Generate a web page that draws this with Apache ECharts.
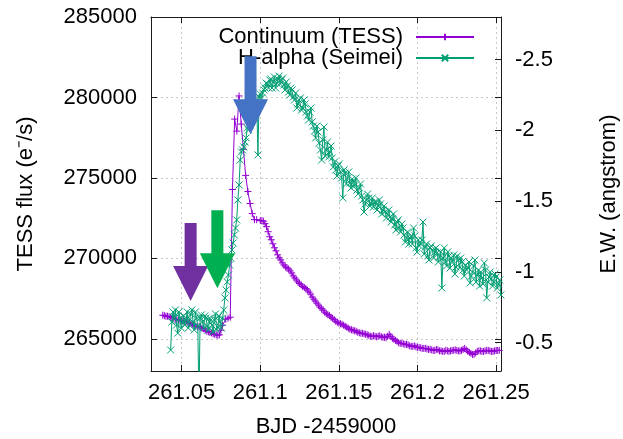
<!DOCTYPE html>
<html><head><meta charset="utf-8">
<script src="https://cdn.jsdelivr.net/npm/echarts@6/dist/echarts.min.js"></script>
<style>html,body{margin:0;padding:0;background:#fff}#c{width:623px;height:439px}</style>
</head><body><div id="c"></div>
<script>
// ---- data ----
// TESS continuum (two interleaved sets of exposures)
const tessTime = [261.0380,261.0400,261.0420,261.0440,261.0460,261.0480,261.0500,261.0520,261.0540,261.0560,
261.0580,261.0600,261.0620,261.0640,261.0660,261.0680,261.0700,261.0720,261.0740,261.0760,
261.0780,261.0795,261.0809,261.0823,261.0837,261.0851,261.0865,261.0879,261.0893,261.0907,
261.0921,261.0935,261.0949,261.0963,261.0977,261.1000,261.1020,261.1040,261.1060,261.1080,
261.1100,261.1120,261.1140,261.1160,261.1180,261.1200,261.1220,261.1240,261.1260,261.1280,
261.1300,261.1320,261.1340,261.1360,261.1380,261.1400,261.1420,261.1440,261.1460,261.1480,
261.1500,261.1520,261.1540,261.1560,261.1580,261.1600,261.1620,261.1640,261.1660,261.1680,
261.1700,261.1720,261.1740,261.1760,261.1780,261.1800,261.1820,261.1840,261.1860,261.1880,
261.1900,261.1920,261.1940,261.1960,261.1980,261.2000,261.2020,261.2040,261.2060,261.2080,
261.2100,261.2120,261.2140,261.2160,261.2180,261.2200,261.2220,261.2240,261.2260,261.2280,
261.2300,261.2320,261.2340,261.2360,261.2380,261.2400,261.2420,261.2440,261.2460,261.2480,
261.2500,261.2520];
const tessFlux = [266469,266406,266375,266313,266219,266156,266125,266094,266031,265938,
265844,265750,265719,265625,265469,265406,265313,265250,265250,265844,
266219,266281,266344,274281,278656,277906,280094,278344,276781,275156,
274156,273406,272781,272406,272406,272344,272313,271969,271344,270906,
270469,270031,269719,269469,269344,269094,268781,268531,268344,268188,
268031,267781,267469,267219,266969,266781,266563,266438,266281,266094,
265969,265906,265781,265656,265563,265500,265406,265344,265313,265250,
265156,265188,265125,265188,265094,265063,265281,265031,264906,264750,
264719,264656,264625,264531,264563,264469,264438,264406,264375,264344,
264281,264344,264250,264219,264281,264219,264281,264313,264250,264281,
264406,264219,264094,264031,264219,264250,264219,264281,264250,264219,
264281,264281];
const tessTime2 = [261.039,261.041,261.043,261.045,261.047,261.049,261.051,261.053,261.055,261.057,
261.059,261.061,261.063,261.065,261.067,261.069,261.071,261.073,261.075,
261.101,261.103,261.105,261.107,261.109,261.111,261.113,261.115,261.117,261.119,
261.121,261.123,261.125,261.127,261.129,261.131,261.133,261.135,261.137,261.139,
261.141,261.143,261.145,261.147,261.149,261.151,261.153,261.155,261.157,261.159,
261.161,261.163,261.165,261.167,261.169,261.171,261.173,261.175,261.177,261.179,
261.181,261.183,261.185,261.187,261.189,261.191,261.193,261.195,261.197,261.199,
261.201,261.203,261.205,261.207,261.209,261.211,261.213,261.215,261.217,261.219,
261.221,261.223,261.225,261.227,261.229,261.231,261.233,261.235,261.237,261.239,
261.241,261.243,261.245,261.247,261.249,261.251];
const tessFlux2 = [266438,266406,266344,266281,266188,266156,266094,266094,265969,265906,
265781,265750,265656,265531,265438,265375,265281,265219,265531,
272344,272156,271656,271156,270656,270219,269906,269594,269406,269219,
268906,268656,268438,268250,268125,267906,267594,267344,267094,266875,
266656,266500,266344,266188,266031,265938,265844,265719,265594,265531,
265469,265375,265344,265281,265219,265156,265156,265156,265125,265094,
265156,265156,264969,264844,264719,264688,264656,264563,264531,264500,
264469,264406,264406,264344,264313,264281,264313,264250,264219,264250,
264250,264281,264281,264250,264344,264313,264156,264031,264125,264250,
264219,264250,264281,264219,264250,264281];

// H-alpha equivalent width (Seimei) (two interleaved sets)
const haTime = [261.0430,261.0445,261.0460,261.0475,261.0490,261.0505,261.0520,261.0535,261.0550,261.0565,
261.0580,261.0595,261.0610,261.0625,261.0640,261.0655,261.0670,261.0685,261.0700,261.0715,
261.0730,261.0745,261.0760,261.0775,261.0790,261.0805,261.0820,261.0835,261.0850,261.0865,
261.0880,261.0895,261.0910,261.0925,261.0940,261.0955,261.0970,261.0985,261.1000,261.1015,
261.1030,261.1045,261.1060,261.1075,261.1090,261.1105,261.1120,261.1135,261.1150,261.1165,
261.1180,261.1195,261.1210,261.1225,261.1240,261.1255,261.1270,261.1285,261.1300,261.1315,
261.1330,261.1345,261.1360,261.1375,261.1390,261.1405,261.1420,261.1435,261.1450,261.1465,
261.1480,261.1495,261.1510,261.1525,261.1540,261.1555,261.1570,261.1585,261.1600,261.1615,
261.1630,261.1645,261.1660,261.1675,261.1690,261.1705,261.1720,261.1735,261.1750,261.1765,
261.1780,261.1795,261.1810,261.1825,261.1840,261.1855,261.1870,261.1885,261.1900,261.1915,
261.1930,261.1945,261.1960,261.1975,261.1990,261.2005,261.2020,261.2035,261.2050,261.2065,
261.2080,261.2095,261.2110,261.2125,261.2140,261.2155,261.2170,261.2185,261.2200,261.2215,
261.2230,261.2245,261.2260,261.2275,261.2290,261.2305,261.2320,261.2335,261.2350,261.2365,
261.2380,261.2395,261.2410,261.2425,261.2440,261.2455,261.2470,261.2485,261.2500,261.2515,
261.2530];
const haEW = [-0.448,-0.717,-0.731,-0.568,-0.674,-0.646,-0.625,-0.717,-0.660,-0.731,
-0.590,-0.674,-0.095,-0.696,-0.604,-0.674,-0.590,-0.660,-0.576,-0.703,
-0.611,-0.646,-0.674,-0.816,-0.929,-1.049,-1.155,-1.261,-1.367,-1.614,
-1.847,-1.882,-1.946,-2.002,-2.059,-2.108,-2.158,-1.826,-2.256,-2.263,
-2.299,-2.327,-2.355,-2.299,-2.376,-2.334,-2.383,-2.355,-2.320,-2.341,
-2.270,-2.299,-2.235,-2.263,-2.186,-2.228,-2.158,-2.186,-2.101,-2.129,
-2.059,-1.995,-2.030,-1.910,-1.790,-2.023,-1.861,-1.811,-1.889,-1.741,
-1.720,-1.748,-1.706,-1.522,-1.698,-1.663,-1.628,-1.656,-1.607,-1.578,
-1.593,-1.536,-1.423,-1.508,-1.522,-1.487,-1.458,-1.494,-1.465,-1.480,
-1.437,-1.423,-1.409,-1.388,-1.374,-1.331,-1.352,-1.310,-1.338,-1.261,
-1.239,-1.197,-1.254,-1.310,-1.169,-1.225,-1.197,-1.352,-1.176,-1.112,
-1.169,-1.155,-1.141,-1.134,-1.105,-0.886,-1.169,-1.042,-1.112,-1.098,
-1.119,-1.035,-1.084,-1.098,-1.013,-1.049,-1.028,-0.922,-0.999,-1.084,
-0.978,-0.900,-0.957,-1.063,-0.816,-0.964,-0.950,-0.929,-0.964,-0.915,
-0.837];
const haTime2 = [261.04375,261.04525,261.04675,261.04825,261.04975,261.05125,261.05275,261.05425,261.05575,261.05725,
261.05875,261.06025,261.06175,261.06325,261.06475,261.06625,261.06775,261.06925,261.07075,261.07225,
261.07375,261.07525,261.07675,261.07825,261.07975,261.08125,261.08275,261.08425,261.08575,261.08725,
261.08875,261.09025,261.09175,261.09325,261.09475,261.09625,261.09775,261.09925,261.10075,261.10225,
261.10375,261.10525,261.10675,261.10825,261.10975,261.11125,261.11275,261.11425,261.11575,261.11725,
261.11875,261.12025,261.12175,261.12325,261.12475,261.12625,261.12775,261.12925,261.13075,261.13225,
261.13375,261.13525,261.13675,261.13825,261.13975,261.14125,261.14275,261.14425,261.14575,261.14725,
261.14875,261.15025,261.15175,261.15325,261.15475,261.15625,261.15775,261.15925,261.16075,261.16225,
261.16375,261.16525,261.16675,261.16825,261.16975,261.17125,261.17275,261.17425,261.17575,261.17725,
261.17875,261.18025,261.18175,261.18325,261.18475,261.18625,261.18775,261.18925,261.19075,261.19225,
261.19375,261.19525,261.19675,261.19825,261.19975,261.20125,261.20275,261.20425,261.20575,261.20725,
261.20875,261.21025,261.21175,261.21325,261.21475,261.21625,261.21775,261.21925,261.22075,261.22225,
261.22375,261.22525,261.22675,261.22825,261.22975,261.23125,261.23275,261.23425,261.23575,261.23725,
261.23875,261.24025,261.24175,261.24325,261.24475,261.24625,261.24775,261.24925,261.25075,261.25225];
const haEW2 = [-0.646,-0.674,-0.625,-0.717,-0.604,-0.689,-0.660,-0.604,-0.703,-0.646,
-0.717,-0.618,-0.674,-0.646,-0.689,-0.618,-0.674,-0.625,-0.660,-0.590,
-0.689,-0.604,-0.731,-0.872,-0.978,-1.098,-1.204,-1.310,-1.508,-1.790,
-1.861,-1.917,-2.016,-2.037,-2.129,-2.087,-2.214,-2.235,-2.228,-2.285,
-2.334,-2.299,-2.362,-2.341,-2.299,-2.362,-2.327,-2.369,-2.285,-2.313,
-2.249,-2.285,-2.214,-2.157,-2.214,-2.143,-2.214,-2.129,-2.073,-2.157,
-2.030,-1.946,-1.988,-1.861,-1.932,-1.819,-1.917,-1.847,-1.804,-1.776,
-1.677,-1.762,-1.663,-1.720,-1.621,-1.706,-1.593,-1.635,-1.663,-1.550,
-1.621,-1.508,-1.480,-1.550,-1.465,-1.522,-1.494,-1.437,-1.508,-1.409,
-1.465,-1.381,-1.437,-1.352,-1.409,-1.296,-1.367,-1.282,-1.310,-1.211,
-1.282,-1.239,-1.197,-1.254,-1.141,-1.183,-1.225,-1.126,-1.197,-1.084,
-1.183,-1.098,-1.169,-1.070,-1.141,-1.098,-1.070,-1.141,-1.028,-1.070,
-0.985,-1.112,-1.028,-1.070,-0.971,-1.013,-1.070,-0.971,-1.042,-0.929,
-1.013,-0.999,-0.915,-1.013,-0.929,-0.999,-0.900,-0.985,-0.886,-0.943];

const xTicks = [261.05, 261.1, 261.15, 261.2, 261.25];
const fluxTicks = [265000, 270000, 275000, 280000, 285000];
const ewTicks = [-2.5, -2, -1.5, -1, -0.5];

const seriesNames = ['Continuum (TESS)', 'H-alpha (Seimei)'];
// arrow annotations: tip position in data coordinates (time, flux)
const arrowTips = [
  {color: '#7030A0', t: 261.0557, flux: 267344},
  {color: '#00B050', t: 261.0727, flux: 268138},
  {color: '#4472C4', t: 261.0938, flux: 277719}
];

// ---- build time-ordered series tables ----
function merge(t1, v1, t2, v2) {
  const rows = t1.map((t, i) => [t, v1[i]]).concat(t2.map((t, i) => [t, v2[i]]));
  rows.sort((a, b) => a[0] - b[0]);
  return rows;
}
const tessData = merge(tessTime, tessFlux, tessTime2, tessFlux2);
const haData = merge(haTime, haEW, haTime2, haEW2);

// ---- chart ----
const FONT = 'Liberation Sans';
const FS = 22;
const PURPLE = '#9400D3', GREEN = '#009E73';
const frame = {show: true, lineStyle: {color: '#1a1a1a', width: 1}};
const tickIn = (vals) => ({show: true, inside: true, length: 6, customValues: vals, lineStyle: {color: '#1a1a1a', width: 1}});
const grid = {show: false, left: 151, right: 122, top: 17, bottom: 68, outerBoundsMode: 'none', containLabel: false};

const chart = echarts.init(document.getElementById('c'), null, {renderer: 'canvas'});
const plus = 'path://M0,4L8,4M4,0L4,8';
const cross = 'path://M0,0L8,8M8,0L0,8';

const legendBase = {
  orient: 'vertical', align: 'right', itemWidth: 58, itemHeight: 8, itemGap: 0,
  textStyle: {fontFamily: FONT, fontSize: FS, color: '#000', padding: [0, 8, 0, 0]},
  inactiveColor: '#ccc', selectedMode: false
};

chart.setOption({
  animation: false,
  backgroundColor: '#fff',
  grid: grid,
  legend: [
    Object.assign({}, legendBase, {data: [seriesNames[0]], right: 143, top: 21}),
    Object.assign({}, legendBase, {data: [seriesNames[1]], right: 143, top: 42})
  ],
  xAxis: [
    {type: 'value', min: 261.0305, max: 261.2531, position: 'bottom',
     axisLine: frame, axisTick: tickIn(xTicks),
     axisLabel: {customValues: xTicks, fontFamily: FONT, fontSize: FS, color: '#000', margin: 11,
                 formatter: v => String(Math.round(v * 100) / 100)},
     splitLine: {show: true, lineStyle: {color: '#c8c8c8', type: [2, 3], width: 1}},
     name: 'BJD -2459000', nameLocation: 'middle', nameGap: 45,
     nameTextStyle: {fontFamily: FONT, fontSize: FS, color: '#000'}},
    {type: 'value', min: 261.0305, max: 261.2531, position: 'top',
     axisLine: frame, axisTick: tickIn(xTicks), axisLabel: {show: false}, splitLine: {show: false}}
  ],
  yAxis: [
    {type: 'value', min: 263000, max: 285000, position: 'left',
     axisLine: frame, axisTick: tickIn(fluxTicks),
     axisLabel: {customValues: fluxTicks, fontFamily: FONT, fontSize: FS, color: '#000', margin: 14,
                 formatter: v => String(v)},
     splitLine: {show: true, lineStyle: {color: '#c8c8c8', type: [2, 3], width: 1}},
     name: 'TESS flux (e⁻/s)', nameLocation: 'middle', nameGap: 114, nameRotate: 90,
     nameTextStyle: {fontFamily: FONT, fontSize: FS, color: '#000'}},
    {type: 'value', min: -2.8, max: -0.3, inverse: true, position: 'right',
     axisLine: frame, axisTick: tickIn(ewTicks),
     axisLabel: {customValues: ewTicks, fontFamily: FONT, fontSize: FS, color: '#000', margin: 14,
                 formatter: v => String(v)},
     splitLine: {show: false},
     name: 'E.W. (angstrom)', nameLocation: 'middle', nameGap: 97, nameRotate: 90,
     nameTextStyle: {fontFamily: FONT, fontSize: FS, color: '#000'}},
    {type: 'value', min: 263000, max: 285000, position: 'right',
     axisLine: {show: false}, axisTick: tickIn(fluxTicks), axisLabel: {show: false}, splitLine: {show: false}}
  ],
  series: [
    {name: seriesNames[0], type: 'line', xAxisIndex: 0, yAxisIndex: 0,
     data: tessData,
     symbol: plus, symbolSize: 7, showAllSymbol: true,
     lineStyle: {color: PURPLE, width: 1},
     itemStyle: {color: PURPLE, borderColor: PURPLE, borderWidth: 1},
     emphasis: {disabled: true}, z: 2},
    {name: seriesNames[1], type: 'line', xAxisIndex: 0, yAxisIndex: 1,
     data: haData,
     symbol: cross, symbolSize: 7, showAllSymbol: true,
     lineStyle: {color: GREEN, width: 1},
     itemStyle: {color: GREEN, borderColor: GREEN, borderWidth: 1},
     emphasis: {disabled: true}, z: 3}
  ]
});

// arrows (annotations) positioned from data coordinates
const arrowGraphics = arrowTips.map(a => {
  const p = chart.convertToPixel({xAxisIndex: 0, yAxisIndex: 0}, [a.t, a.flux]);
  const x = p[0], y = p[1];
  const sw = 6, hw = 17.5, sh = 35, top = 78;
  return {
    type: 'polygon', z: 100, silent: true,
    shape: {points: [[x - sw, y - top], [x + sw, y - top], [x + sw, y - sh], [x + hw, y - sh],
                     [x, y], [x - hw, y - sh], [x - sw, y - sh]]},
    style: {fill: a.color}
  };
});
chart.setOption({graphic: arrowGraphics});
</script>
</body></html>
